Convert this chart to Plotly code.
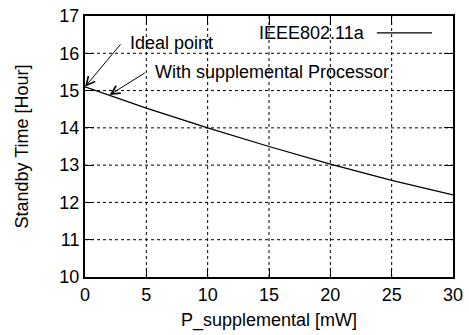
import plotly.graph_objects as go

# Data
power_mw = [0, 5, 10, 15, 20, 25, 30]
standby_hours = [15.1, 14.53, 14.0, 13.5, 13.03, 12.59, 12.2]
series_name = "IEEE802.11a"
x_ticks = [0, 5, 10, 15, 20, 25, 30]
y_ticks = [10, 11, 12, 13, 14, 15, 16, 17]

FONT = "Liberation Sans, Arial, Helvetica, sans-serif"
FS = 18

fig = go.Figure()
fig.add_trace(go.Scatter(x=power_mw, y=standby_hours, mode="lines",
                         line=dict(color="black", width=1.3),
                         name=series_name, showlegend=False))

axis_common = dict(showline=True, linecolor="black", linewidth=2, mirror="allticks",
                   ticks="inside", ticklen=9, tickwidth=1.3, tickcolor="black",
                   showgrid=False, zeroline=False, automargin=False,
                   tickfont=dict(family=FONT, size=FS, color="black"))

fig.update_xaxes(range=[0, 30], tickvals=x_ticks, **axis_common,
                 title=dict(text="P_supplemental [mW]", font=dict(family=FONT, size=FS, color="black"), standoff=10))
fig.update_yaxes(range=[10, 17], tickvals=y_ticks, **axis_common,
                 title=dict(text="Standby Time [Hour]", font=dict(family=FONT, size=FS, color="black"), standoff=26))

# Dotted grid lines at the interior tick positions
grid_line = dict(color="black", width=1, dash="dot")
for xv in x_ticks[1:-1]:
    fig.add_shape(type="line", xref="x", yref="paper", x0=xv, x1=xv, y0=0, y1=1,
                  line=grid_line, layer="below")
for yv in y_ticks[1:-1]:
    fig.add_shape(type="line", xref="paper", yref="y", x0=0, x1=1, y0=yv, y1=yv,
                  line=grid_line, layer="below")

# Arrow annotations
fig.add_annotation(x=power_mw[0], y=standby_hours[0], ax=3.0, ay=16.28, axref="x", ayref="y",
                   xref="x", yref="y", text="", showarrow=True, arrowhead=5, arrowsize=1.7,
                   arrowwidth=1, arrowcolor="black")
fig.add_annotation(x=3.5, y=16.28, xref="x", yref="y", text="Ideal point", showarrow=False,
                   xanchor="left", yanchor="middle", font=dict(family=FONT, size=FS, color="black"))
fig.add_annotation(x=2.0, y=14.88, ax=5.0, ay=15.5, axref="x", ayref="y",
                   xref="x", yref="y", text="", showarrow=True, arrowhead=5, arrowsize=1.7,
                   arrowwidth=1, arrowcolor="black")
fig.add_annotation(x=5.55, y=15.5, xref="x", yref="y", text="With supplemental Processor", showarrow=False,
                   xanchor="left", yanchor="middle", font=dict(family=FONT, size=FS, color="black"))

# Legend (text then line sample to its right, as in the reference)
fig.add_annotation(x=0.766, y=0.935, xref="paper", yref="paper", text=series_name, showarrow=False,
                   xanchor="right", yanchor="middle", font=dict(family=FONT, size=FS, color="black"))
fig.add_shape(type="line", xref="paper", yref="paper", x0=0.793, x1=0.943, y0=0.935, y1=0.935,
              line=dict(color="black", width=1.3))

fig.update_layout(width=469, height=335, margin=dict(l=85, r=16, t=16, b=58, autoexpand=False),
                  plot_bgcolor="white", paper_bgcolor="white",
                  font=dict(family=FONT, size=FS, color="black"))

# Remove the page's default body margin so the figure sits at the window's top-left corner.
fig.write_html("out.html", config={"displayModeBar": False},
               post_script="document.body.style.margin='0';")
